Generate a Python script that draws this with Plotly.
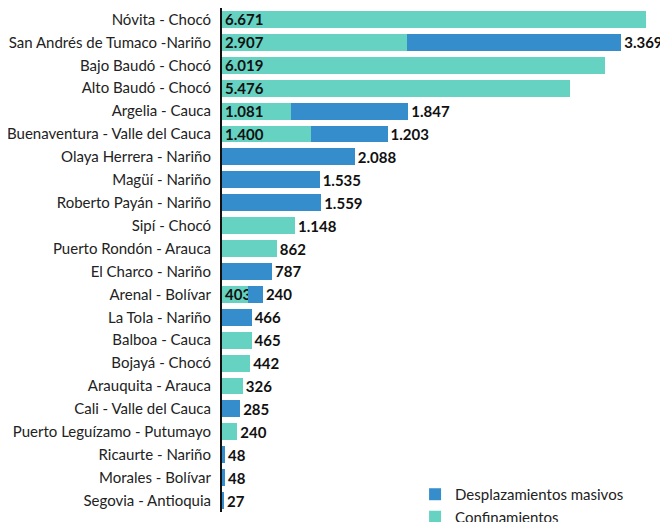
import plotly.graph_objects as go

categories = [
    "Nóvita - Chocó", "San Andrés de Tumaco -Nariño", "Bajo Baudó - Chocó",
    "Alto Baudó - Chocó", "Argelia - Cauca", "Buenaventura - Valle del Cauca",
    "Olaya Herrera - Nariño", "Magüí - Nariño", "Roberto Payán - Nariño",
    "Sipí - Chocó", "Puerto Rondón - Arauca", "El Charco - Nariño",
    "Arenal - Bolívar", "La Tola - Nariño", "Balboa - Cauca", "Bojayá - Chocó",
    "Arauquita - Arauca", "Cali - Valle del Cauca", "Puerto Leguízamo - Putumayo",
    "Ricaurte - Nariño", "Morales - Bolívar", "Segovia - Antioquia",
]
confinamientos = [6671, 2907, 6019, 5476, 1081, 1400, None, None, None, 1148, 862,
                  None, 403, None, 465, 442, 326, None, 240, None, None, None]
desplazamientos = [None, 3369, None, None, 1847, 1203, 2088, 1535, 1559, None, None,
                   787, 240, 466, None, None, None, 285, None, 48, 48, 27]


def fmt(v):
    return "" if v is None else f"{v:,}".replace(",", ".")


TEAL = "#66D2C2"
BLUE = "#368DCB"
FONT = "Lato, 'Open Sans', sans-serif"

# teal labels: inside at bar start when there is room, outside otherwise
conf_pos = []
for c, d in zip(confinamientos, desplazamientos):
    if c is None:
        conf_pos.append("none")
    elif c > 1300 or d is not None:
        conf_pos.append("inside")
    else:
        conf_pos.append("outside")

fig = go.Figure()
fig.add_trace(go.Bar(
    y=categories, x=confinamientos, orientation="h", name="Confinamientos",
    marker=dict(color=TEAL, line=dict(width=0)),
    text=[fmt(v) for v in confinamientos], textposition=conf_pos,
    insidetextanchor="start", textangle=0, constraintext="none",
    textfont=dict(family=FONT, size=15, color="#111", weight="bold"),
    cliponaxis=False, legendrank=2,
))
fig.add_trace(go.Bar(
    y=categories, x=desplazamientos, orientation="h", name="Desplazamientos masivos",
    marker=dict(color=BLUE, line=dict(width=0)),
    text=[fmt(v) for v in desplazamientos], textposition="outside",
    textangle=0, constraintext="none",
    textfont=dict(family=FONT, size=15, color="#111", weight="bold"),
    cliponaxis=False, legendrank=1,
))

# page body has an 8px margin, so the figure is 8px smaller than the window
fig.update_layout(
    width=660, height=514,
    margin=dict(l=214, r=16, t=0, b=10, autoexpand=False),
    barmode="stack", bargap=0.26,
    paper_bgcolor="white", plot_bgcolor="white",
    font=dict(family=FONT, color="#222"),
    uniformtext=dict(minsize=15, mode="show"),
    showlegend=True,
    legend=dict(x=0.449, y=0.0675, xanchor="left", yanchor="top",
                font=dict(family=FONT, size=15, color="#222"),
                bgcolor="rgba(0,0,0,0)", traceorder="normal"),
    xaxis=dict(range=[0, 6760], visible=False, showgrid=False, zeroline=False),
    yaxis=dict(autorange="reversed", showline=True, linecolor="#111", linewidth=2,
               ticks="", ticklabelstandoff=6, showgrid=False, automargin=False,
               tickfont=dict(family=FONT, size=15, color="#222")),
)

fig.write_html("out.html")
